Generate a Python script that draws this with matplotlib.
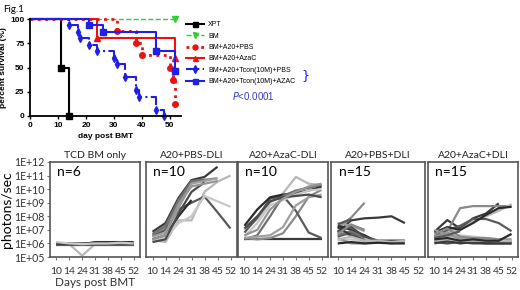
import numpy as np
import matplotlib
matplotlib.use('Agg')
import matplotlib.pyplot as plt

nan = np.nan

# ---- survival data (day post BMT, percent survival) ----
xpt_days = [0, 11, 14]
xpt_surv = [100, 50, 0]
bm_days = [0, 52]
bm_surv = [100, 100]
pbs_days = [0, 31, 38, 40, 50, 51, 52]
pbs_surv = [100, 87.5, 75, 62.5, 50, 37.5, 12.5]
azac_days = [0, 24, 52]
azac_surv = [100, 80, 60]
tcon_pbs_days = [0, 14, 17, 18, 21, 24, 30, 31, 34, 38, 39, 45, 48]
tcon_pbs_surv = [100, 93.3, 86.7, 80, 73.3, 66.7, 60, 53.3, 40, 26.7, 20, 6.7, 0]
tcon_azac_days = [0, 21, 26, 45, 52]
tcon_azac_surv = [100, 93.3, 86.7, 66.7, 46.7]

group_labels = ['XPT', 'BM', 'BM+A20+PBS', 'BM+A20+AzaC',
                'BM+A20+Tcon(10M)+PBS', 'BM+A20+Tcon(10M)+AZAC']

# ---- bioluminescence data (log10 photons/sec) ----
days_bmt = [10, 14, 24, 31, 38, 45, 52]
panel_titles = ['TCD BM only', 'A20+PBS-DLI', 'A20+AzaC-DLI', 'A20+PBS+DLI', 'A20+AzaC+DLI']
panel_n = [6, 10, 10, 15, 15]

tcd_lines = [
    [6.05, 5.95, 5.9, 6.1, 6.1, 6.1, 6.1],
    [5.95, 5.9, 5.95, 5.95, 5.95, 5.95, 5.95],
    [6.0, 5.95, 5.1, 5.95, 6.0, 6.0, 6.0],
    [5.9, 5.9, 5.9, 5.9, 5.9, 5.9, 5.9],
    [6.0, 6.0, 6.0, 6.05, 6.05, 6.05, 6.05],
    [6.1, 6.0, 5.95, 6.0, 6.0, 6.05, 6.0],
]
pbs_dli_minus = [
    [6.86, 7.5, 9.35, 10.67, 10.9, 11.65, nan],
    [6.6, 7.2, 9.0, 10.5, 10.7, 10.8, nan],
    [6.25, 6.1, 7.7, 7.7, 9.8, 10.55, 11.0],
    [6.5, 7.0, 8.5, 9.0, 9.45, 8.3, 7.1],
    [6.3, 6.6, 8.0, 9.2, nan, nan, nan],
    [6.2, 6.4, 7.5, 8.0, 9.5, 9.1, 8.7],
    [6.7, 7.3, 9.2, 10.6, 10.7, nan, nan],
    [6.5, 6.8, 8.6, 10.4, 10.6, 10.8, nan],
    [6.1, 6.3, 8.2, 9.8, 10.5, nan, nan],
    [6.3, 6.6, 8.9, 10.2, 10.4, 10.6, nan],
]
azac_dli_minus = [
    [6.3, 6.3, 6.3, 6.3, 6.3, 6.3, 6.3],
    [6.4, 6.3, 6.4, 6.75, 8.0, 9.45, 9.95],
    [7.0, 7.8, 9.0, 9.7, 10.9, 10.4, 10.3],
    [6.8, 7.9, 9.3, 9.5, 8.4, 6.8, 6.4],
    [7.3, 8.5, 9.4, 9.6, 9.7, 9.9, 10.2],
    [6.5, 7.5, 8.8, 9.2, 9.6, 9.9, 10.0],
    [6.3, 6.6, 8.0, 9.5, 9.9, 10.1, 10.3],
    [6.4, 6.5, 6.6, 7.2, 8.8, 9.4, 9.6],
    [7.1, 8.0, 9.1, 9.4, 9.5, 9.6, 9.4],
    [6.6, 7.0, 8.5, 9.3, 9.8, 10.2, 10.4],
]
pbs_dli_plus = [
    [6.8, 7.7, 7.85, 7.9, 8.0, 7.5, nan],
    [7.1, 7.9, 9.0, nan, nan, nan, nan],
    [7.0, 6.5, 6.3, 6.2, 6.2, 6.2, nan],
    [6.5, 6.8, 6.2, 6.1, 6.1, 6.1, nan],
    [7.3, 7.0, 6.6, 6.1, 6.1, 6.1, nan],
    [6.2, 6.3, 6.1, 6.1, 6.2, 6.2, nan],
    [6.6, 6.9, 6.4, nan, nan, nan, nan],
    [7.5, 7.3, 6.9, nan, nan, nan, nan],
    [6.9, 7.2, 6.5, 6.2, 6.2, 6.2, nan],
    [6.4, 6.0, 6.0, 6.1, 6.0, 6.1, nan],
    [7.2, 6.6, 6.2, nan, nan, nan, nan],
    [6.7, 7.4, 7.0, nan, nan, nan, nan],
    [6.3, 6.5, 6.2, 6.2, 6.1, 6.2, nan],
    [7.4, 7.8, nan, nan, nan, nan, nan],
    [6.0, 6.1, 6.0, 6.05, 6.0, 6.0, nan],
]
azac_dli_plus = [
    [6.86, 7.72, 7.1, 7.85, 8.2, 8.95, nan],
    [6.4, 6.9, 8.6, 8.75, 8.75, 8.75, 8.75],
    [6.6, 6.8, 7.0, 7.6, 8.0, 8.4, 8.9],
    [6.5, 7.0, 7.3, 7.8, 7.8, 7.5, 6.9],
    [6.8, 7.2, 7.0, 7.5, 8.1, 8.6, 8.7],
    [6.2, 6.5, 6.6, 6.5, 6.4, 6.3, 6.2],
    [6.3, 6.1, 6.2, 6.1, 6.1, 6.1, 6.1],
    [7.0, 6.6, 6.4, 6.3, 6.3, 6.2, 6.2],
    [6.1, 6.0, 6.1, 6.0, 6.0, 6.0, 6.0],
    [6.5, 6.8, 6.3, 6.2, 6.2, 6.1, 6.1],
    [6.0, 6.2, 6.0, 6.1, 6.0, 6.0, 6.0],
    [6.7, 7.1, 6.5, 6.4, 6.4, 6.3, 6.3],
    [6.2, 6.3, 6.2, 6.2, 6.2, 6.2, 6.2],
    [6.4, 6.6, 6.9, nan, nan, nan, nan],
    [6.3, 6.4, 6.2, 6.3, 6.2, 6.2, 6.7],
]
panel_lines = [tcd_lines, pbs_dli_minus, azac_dli_minus, pbs_dli_plus, azac_dli_plus]

W, H = 520, 290
fig = plt.figure(figsize=(W / 100, H / 100), dpi=100)

def box(l, t, r, b):
    return [l / W, 1 - b / H, (r - l) / W, (b - t) / H]

# ---------------- survival plot ----------------
ax = fig.add_axes(box(30, 19, 181, 116))
curves = [
    (xpt_days, xpt_surv, dict(color='black', ls='-', marker='s', lw=1.5)),
    (bm_days, bm_surv, dict(color='#33cc33', ls='--', marker='v', lw=1.0)),
    (pbs_days, pbs_surv, dict(color='#ee1111', ls=':', marker='o', lw=2.0)),
    (azac_days, azac_surv, dict(color='#ee1111', ls='-', marker='^', lw=1.5)),
    (tcon_pbs_days, tcon_pbs_surv, dict(color='#1f1fe6', ls='-.', marker='d', lw=1.5)),
    (tcon_azac_days, tcon_azac_surv, dict(color='#1f1fe6', ls='-', marker='s', lw=1.5)),
]
for (d, s, st), lab in zip(curves, group_labels):
    ax.plot(d, s, drawstyle='steps-post', markevery=list(range(1, len(d))),
            ms=4, clip_on=False, label=lab, **st)
ax.set_xlim(0, 54)
ax.set_ylim(0, 100)
ax.set_xticks([0, 10, 20, 30, 40, 50])
ax.set_yticks([0, 25, 50, 75, 100])
for sp in ['top', 'right']:
    ax.spines[sp].set_visible(False)
for sp in ['left', 'bottom']:
    ax.spines[sp].set_linewidth(1.3)
ax.tick_params(labelsize=6, width=1.0, length=2.5, pad=1.5)
for t in ax.get_xticklabels() + ax.get_yticklabels():
    t.set_fontweight('bold')
    t.set_family('Liberation Sans')
ax.set_xlabel('day post BMT', fontsize=6, fontweight='bold', labelpad=3,
              family='Liberation Sans')
ax.set_ylabel('percent survival (%)', fontsize=6, fontweight='bold', labelpad=2,
              family='Liberation Sans')
fig.legend(loc='upper left', bbox_to_anchor=(186 / W, 1 - 21.5 / H), frameon=False,
           prop={'family': 'Liberation Sans', 'size': 5}, handlelength=2.6,
           handletextpad=0.6, labelspacing=0.62, markerscale=0.9,
           borderpad=0, borderaxespad=0)
fig.text(301 / W, 1 - 76 / H, '}', color='#1f1fe6', fontsize=9, va='center', ha='left')
fig.text(232 / W, 1 - 96 / H, r'$\it{P}$<0.0001', color='#3a3ad0', fontsize=7,
         va='center', family='Liberation Sans')
fig.text(3 / W, 1 - 9 / H, 'Fig.1', fontsize=7, va='center', family='Lato')

# ---------------- BLI panels ----------------
panel_boxes = [(50, 140), (146, 237), (238, 328), (331, 425), (428, 518)]
grays = ['#3a3a3a', '#8a8a8a', '#b8b8b8', '#5a5a5a', '#2a2a2a', '#c8c8c8',
         '#707070', '#a0a0a0', '#4a4a4a', '#959595']
pos = np.arange(len(days_bmt))
for i, ((l, r), title, n, lines) in enumerate(zip(panel_boxes, panel_titles, panel_n, panel_lines)):
    a = fig.add_axes(box(l, 162, r, 257))
    for j, ln in enumerate(lines):
        a.plot(pos, 10 ** np.array(ln), color=grays[j % len(grays)], lw=1.6,
               solid_capstyle='butt')
    a.set_yscale('log')
    a.set_ylim(1e5, 1e12)
    a.set_xlim(-0.5, 6.5)
    a.set_xticks(pos)
    a.set_xticklabels([str(d) for d in days_bmt], family='Lato', fontsize=7.5, color='#333333')
    a.tick_params(axis='x', length=2.5, pad=5, color='#777777')
    a.minorticks_off()
    for sp in a.spines.values():
        sp.set_color('#555555')
        sp.set_linewidth(1.2)
    if i == 0:
        a.set_yticks([10.0 ** k for k in range(5, 13)])
        a.set_yticklabels(['1E+%02d' % k for k in range(5, 13)], family='Lato',
                          fontsize=7.6, color='#333333')
        a.tick_params(axis='y', length=2.5, pad=1.5, color='#777777')
        a.set_ylabel('photons/sec', family='Lato', fontsize=10, labelpad=1)
    else:
        a.set_yticks([])
    a.set_title(title, family='Lato', fontsize=7.5, pad=3, color='#222222')
    a.text(0.08, 0.9, 'n=%d' % n, transform=a.transAxes, family='Lato',
           fontsize=10, va='center', ha='left')

fig.text(95 / W, 1 - 282 / H, 'Days post BMT', family='Lato', fontsize=8.5,
         ha='center', va='center', color='#333333')

fig.savefig('out.png', dpi=100)
